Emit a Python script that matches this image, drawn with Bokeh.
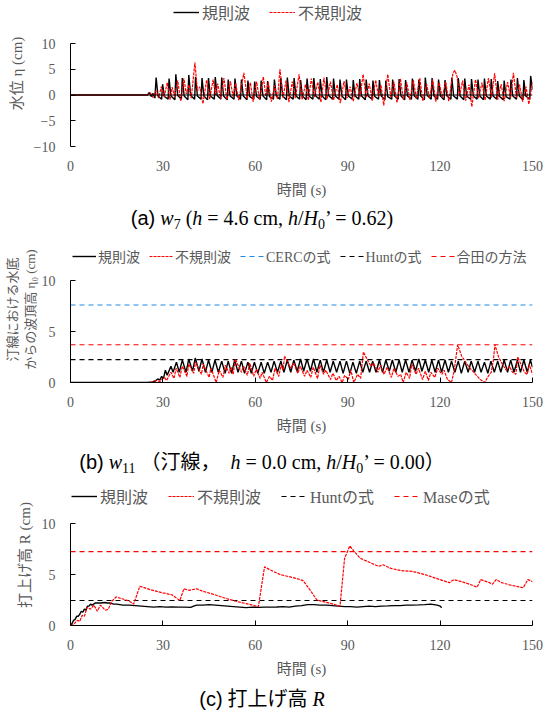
from bokeh.plotting import figure
from bokeh.models import Legend, LegendItem, Span, Div, FixedTicker
from bokeh.layouts import column
from bokeh.embed import file_html
from bokeh.resources import INLINE

# ---------------- data ----------------
t_span = [0, 150]
x_ticks = [0, 30, 60, 90, 120, 150]

# (a) water level at w7
reg_a_t = [0, 25, 25.6, 26.2, 26.8, 27.4,
           27.8, 28.4, 29.6, 29.9, 30.5, 31.7, 32.0, 32.6, 33.9, 34.2, 34.8, 36.0,
           36.3, 36.9, 38.1, 38.4, 39.0, 40.3, 40.6, 41.2, 42.4, 42.7, 43.3, 44.5,
           44.8, 45.4, 46.7, 47.0, 47.6, 48.8, 49.1, 49.7, 50.9, 51.2, 51.8, 53.1,
           53.4, 54.0, 55.2, 55.5, 56.1, 57.3, 57.6, 58.2, 59.5, 59.8, 60.4, 61.6,
           61.9, 62.5, 63.7, 64.0, 64.6, 65.9, 66.2, 66.8, 68.0, 68.3, 68.9, 70.1,
           70.4, 71.0, 72.3, 72.6, 73.2, 74.4, 74.7, 75.3, 76.5, 76.8, 77.4, 78.7,
           79.0, 79.6, 80.8, 81.1, 81.7, 82.9, 83.2, 83.8, 85.1, 85.4, 86.0, 87.2,
           87.5, 88.1, 89.3, 89.6, 90.2, 91.5, 91.8, 92.4, 93.6, 93.9, 94.5, 95.7,
           96.0, 96.6, 97.9, 98.2, 98.8, 100.0, 100.3, 100.9, 102.1, 102.4, 103.0, 104.3,
           104.6, 105.2, 106.4, 106.7, 107.3, 108.5, 108.8, 109.4, 110.7, 111.0, 111.6, 112.8,
           113.1, 113.7, 114.9, 115.2, 115.8, 117.1, 117.4, 118.0, 119.2, 119.5, 120.1, 121.3,
           121.6, 122.2, 123.5, 123.8, 124.4, 125.6, 125.9, 126.5, 127.7, 128.0, 128.6, 129.9,
           130.2, 130.8, 132.0, 132.3, 132.9, 134.1, 134.4, 135.0, 136.3, 136.6, 137.2, 138.4,
           138.7, 139.3, 140.5, 140.8, 141.4, 142.7, 143.0, 143.6, 144.8, 145.1, 145.7, 146.9,
           147.2, 147.8, 149.1, 149.4, 150.0]
reg_a_eta = [0, 0, 0.5, -0.3, 0.3, -0.6,
             3.4, -0.2, -0.8, 2.1, -0.3, -0.8, 3.2, -0.2, -0.9, 4.0, -0.1, -0.8,
             3.3, -0.2, -0.9, 3.9, -0.1, -0.8, 3.5, -0.2, -0.8, 3.3, -0.2, -0.9,
             3.3, -0.2, -0.8, 3.5, -0.1, -0.8, 3.4, -0.2, -0.9, 3.0, -0.2, -0.8,
             3.2, -0.2, -0.8, 3.0, -0.2, -0.9, 2.8, -0.3, -0.8, 2.6, -0.3, -0.8,
             2.8, -0.2, -0.9, 2.7, -0.3, -0.8, 3.0, -0.2, -0.8, 3.3, -0.2, -0.9,
             3.4, -0.2, -0.8, 3.3, -0.2, -0.8, 2.9, -0.2, -0.9, 3.2, -0.2, -0.8,
             3.3, -0.2, -0.8, 3.1, -0.2, -0.9, 3.5, -0.1, -0.8, 3.2, -0.2, -0.8,
             3.0, -0.2, -0.9, 3.0, -0.2, -0.8, 2.9, -0.2, -0.8, 3.1, -0.2, -0.9,
             3.0, -0.2, -0.8, 2.8, -0.3, -0.8, 2.9, -0.2, -0.9, 2.8, -0.3, -0.8,
             3.0, -0.2, -0.8, 3.1, -0.2, -0.9, 2.9, -0.2, -0.8, 3.2, -0.2, -0.8,
             3.0, -0.2, -0.9, 3.4, -0.1, -0.8, 3.3, -0.2, -0.8, 3.0, -0.2, -0.9,
             2.9, -0.2, -0.8, 3.4, -0.2, -0.8, 3.3, -0.2, -0.9, 3.2, -0.2, -0.8,
             3.1, -0.2, -0.8, 3.0, -0.2, -0.9, 3.2, -0.2, -0.8, 3.1, -0.2, -0.8,
             2.7, -0.3, -0.9, 2.8, -0.3, -0.8, 3.0, -0.2, -0.8, 3.3, -0.2, -0.9,
             2.9, -0.2, -0.8, 3.7, 1.0]
irr_a_t = [0, 25, 26, 26.8, 27.8, 28.6, 29.5, 30.4, 31.4, 32.3, 33.0, 33.8, 34.8, 35.8,
           36.8, 37.6, 38.4, 39.2, 40.4, 41.2, 42.0, 43.0, 44.2, 45.2, 46.3, 47.1, 47.8,
           48.7, 49.8, 50.8, 51.9, 52.8, 53.6, 54.6, 56.3, 57.4, 58.4, 59.3, 60.4, 61.4,
           62.6, 63.4, 64.2, 65.2, 66.3, 67.2, 68.0, 69.0, 70.0, 70.9, 72.0, 73.0, 74.2,
           75.2, 76.3, 77.2, 78.2, 79.2, 80.3, 81.3, 82.3, 83.3, 84.4, 85.4, 86.6, 87.6,
           88.8, 89.8, 90.8, 91.8, 93.0, 94.0, 95.0, 96.0, 97.0, 98.0, 99.1, 100.0, 100.8,
           101.7, 103.0, 104.0, 105.0, 106.0, 107.1, 108.1, 109.2, 110.2, 111.3, 112.3,
           113.4, 114.4, 115.6, 116.6, 117.6, 118.6, 119.7, 120.7, 121.8, 122.8, 124.2,
           124.8, 125.5, 126.3, 127.3, 128.3, 129.4, 130.3, 131.5, 132.5, 133.6, 134.6,
           135.7, 136.7, 137.7, 138.7, 139.8, 140.8, 141.9, 142.9, 143.8, 144.8, 145.8,
           146.8, 147.9, 148.8, 150]
irr_a_eta = [0, 0, 0.4, -0.5, 0.9, -0.6, 1.6, -0.4, 2.4, -0.9, 1.5, -0.3, 2.8, -1.2,
             3.2, 0.2, 2.0, -0.6, 6.3, 0.8, 1.6, -1.7, 2.9, -0.8, 3.0, 0.0, 2.2,
             -0.7, 3.3, -0.9, 2.7, -0.3, 2.3, -1.0, 4.3, -0.7, 2.4, -1.3, 2.6, -0.9,
             3.5, -0.2, 2.5, -1.3, 1.8, -0.8, 5.0, -0.5, 2.8, -1.4, 2.6, -0.6, 4.0,
             -0.9, 2.1, -1.0, 3.2, -0.4, 2.5, -1.4, 3.4, -0.8, 2.6, -1.0, 2.0, -1.6,
             2.7, -0.6, 1.6, -1.2, 2.3, -0.4, 4.0, -0.5, 2.2, -1.1, 2.9, -0.3, 1.9,
             -2.0, 4.0, -0.4, 2.6, -1.5, 3.2, -0.9, 2.4, -1.0, 2.9, -0.7,
             3.3, -1.2, 2.1, -0.6, 3.0, -1.3, 2.4, -0.5, 2.6, -1.2, 4.3,
             4.8, 3.6, -0.2, 2.8, -1.1, 2.0, -2.3, 3.0, -0.6, 2.4, -1.0,
             3.3, -0.5, 4.2, -0.9, 2.1, -1.2, 2.5, -0.5, 4.3, -0.6, 2.0,
             -1.3, 1.6, -1.8, 2.5]

# (b) crest height above bottom at shoreline w11
reg_b_t = [0, 25, 26.5, 27.5, 28.3, 29.0, 29.6, 30.2, 30.8, 31.4, 32.6, 33.3, 34.4, 35.3,
           36.3, 37.5, 38.4, 39.6, 40.5, 41.7, 42.7, 43.8, 44.8, 45.9, 46.9, 48.0, 49.1,
           50.2, 51.2, 52.3, 53.3, 54.4, 55.5, 56.5, 57.6, 58.7, 59.7, 60.8, 61.9, 62.9,
           64.0, 65.1, 66.1, 67.2, 68.3, 69.3, 70.4, 71.5, 72.5, 73.6, 74.7, 75.7, 76.8,
           77.9, 78.9, 80.0, 81.1, 82.1, 83.2, 84.3, 85.3, 86.4, 87.5, 88.5, 89.6, 90.7,
           91.7, 92.8, 93.9, 94.9, 96.0, 97.1, 98.1, 99.2, 100.3, 101.3, 102.4, 103.5,
           104.5, 105.6, 106.7, 107.7, 108.8, 109.9, 110.9, 112.0, 113.1, 114.1, 115.2,
           116.3, 117.3, 118.4, 119.5, 120.5, 121.6, 122.7, 123.7, 124.8, 125.9, 126.9,
           128.0, 129.1, 130.1, 131.2, 132.3, 133.3, 134.4, 135.5, 136.5, 137.6, 138.7,
           139.7, 140.8, 141.9, 142.9, 144.0, 145.1, 146.1, 147.2, 148.3, 149.3, 150]
reg_b_eta = [0, 0, 0.05, 0.15, 0.35, 0.25, 0.6, 0.4, 1.2, 0.7, 1.6, 1.0, 2.0, 1.0,
             2.2, 1.0, 2.3, 1.1, 2.4, 1.1, 2.3, 1.0, 2.2, 1.0, 2.2, 1.0, 2.1,
             0.9, 2.1, 0.9, 2.2, 1.0, 2.1, 0.9, 2.0, 0.9, 2.0, 0.9, 2.0, 0.9,
             2.0, 1.0, 2.1, 1.0, 2.1, 1.0, 2.2, 1.0, 2.2, 1.1, 2.3, 1.1, 2.3,
             1.1, 2.3, 1.0, 2.2, 1.0, 2.2, 1.0, 2.1, 1.0, 2.1, 0.9, 2.1, 0.9,
             2.0, 0.9, 2.1, 1.0, 2.1, 1.0, 2.1, 1.0, 2.2, 1.0, 2.2, 1.1,
             2.2, 1.0, 2.2, 1.0, 2.2, 1.0, 2.2, 1.1, 2.3, 1.1, 2.2,
             1.0, 2.2, 1.0, 2.2, 1.0, 2.2, 1.0, 2.1, 1.0, 2.1, 0.9,
             2.1, 1.0, 2.1, 1.0, 2.1, 1.0, 2.0, 0.9, 2.1, 1.0, 2.1,
             1.0, 2.2, 1.0, 2.2, 1.0, 2.2, 1.0, 2.2, 1.0, 2.2, 1.5]
irr_b_t = [0, 26, 28, 29, 30.5, 31.2, 32.6, 33.6, 34.3, 35.5, 36.3, 37.8, 38.4, 40, 40.6,
           42.5, 43.1, 45, 45.6, 47.3, 48.3, 49.5, 50.3, 51.5, 52.1, 52.8, 53.5, 55.5,
           56.2, 57.4, 58.2, 59.5, 60.3, 61.6, 62.2, 63.6, 64.6, 65.6, 66.4, 67.6, 68.4,
           69.0, 69.5, 71.5, 72.5, 73.8, 74.6, 76, 76.8, 78, 78.8, 80.2, 81, 82.2, 82.9,
           84.4, 85.2, 86.3, 87.2, 88.2, 89, 90.2, 91, 92, 93.2, 94.2, 95.1, 96.4, 97.6,
           98.4, 99.8, 100.6, 101.8, 102.8, 104.2, 105, 106.3, 107.2, 108, 109, 110.1,
           110.8, 112.2, 113, 114.3, 115.2, 116.2, 117, 118.3, 119.2, 120.6, 121.3, 122.4,
           123.7, 124.6, 125.7, 127, 128.5, 130, 131.5, 133, 134.5, 135.6, 136.6, 137.3,
           137.8, 139, 140.2, 141.5, 142.5, 143.5, 144.6, 145.2, 146.5, 147.4, 148.3,
           148.9, 149.6, 150]
irr_b_eta = [0, 0, 0.2, 0.1, 0.5, 0.2, 1.0, 0.4, 1.4, 0.5, 1.6, 0.6, 1.8, 0.9, 2.0,
             0.8, 1.8, 0.5, 1.4, 0.0, 1.2, 0.5, 1.7, 0.9, 1.5, 0.8, 2.3, 1.0,
             1.6, 0.7, 1.9, 0.6, 1.3, 0.4, 1.0, 0.0, 0.6, 0.2, 1.4, 0.6, 1.7,
             1.2, 2.6, 1.4, 1.9, 0.9, 1.6, 0.6, 1.2, 0.5, 1.5, 0.4, 1.7, 0.8, 1.2,
             0.3, 0.9, 0.2, 0.6, 0.0, 0.7, 0.3, 1.2, 0.0, 0.8, 0.4, 3.0, 2.2, 1.6,
             1.9, 1.0, 1.7, 0.8, 1.5, 0.5, 1.4, 0.6, 0.8, 0.0, 1.0, 0.4,
             1.8, 0.8, 1.4, 0.3, 1.1, 0.2, 1.0, 0.5, 1.4, 0.8, 1.2, 0.3,
             0.0, 1.2, 3.7, 2.6, 1.9, 1.3, 0.8, 0.3, 0.0, 0.6, 1.0, 2.2,
             3.7, 2.5, 1.8, 1.2, 1.6, 1.0, 0.8, 2.5, 1.6, 1.0, 0.8,
             1.8, 1.2, 0.8]
cerc_b = 7.6
hunt_b = 2.25
goda_b = 3.7

# (c) run-up height R
reg_c_t = [0, 0.5, 1, 1.5, 2, 2.5, 3, 3.5, 4, 4.5, 5, 5.5, 6, 6.5, 7, 8, 9, 10, 11, 12, 13,
           14, 15, 17, 19, 21, 23, 25, 27, 29, 31, 33, 35, 37, 39, 40, 41, 43, 45, 47, 49,
           51, 53, 55, 57, 59, 61, 63, 65, 67, 69, 71, 73, 75, 77, 79, 81, 83, 85, 87, 89,
           91, 93, 95, 97, 99, 101, 103, 105, 107, 109, 111, 113, 115, 117, 119, 120, 120.5]
reg_c_R = [0, 0.2, 0.5, 0.6, 0.9, 0.9, 1.1, 1.4, 1.3, 1.6, 1.5, 1.9, 1.9, 2.1, 2.0, 2.2, 2.2,
           2.2, 2.25, 2.2, 2.2, 2.1, 2.1, 2.0, 2.0, 1.95, 1.9, 1.85, 1.8, 1.85, 1.8, 1.82,
           1.8, 1.8, 1.78, 1.9, 2.0, 2.0, 2.05, 2.0, 1.95, 1.9, 1.85, 1.8, 1.75, 1.8, 1.78,
           1.8, 1.8, 1.82, 1.85, 1.8, 1.9, 1.95, 2.05, 2.05, 2.0, 2.0, 1.95, 1.9, 1.85,
           1.85, 1.8, 1.85, 1.9, 1.85, 1.9, 1.92, 1.95, 1.95, 2.0, 2.0, 2.02, 2.05, 2.1,
           2.0, 1.9, 1.75]
irr_c_t = [0, 1, 2.2, 3, 3.8, 4.5, 5.4, 6.5, 7.6, 8.7, 9.7, 11.3, 12.3, 13.2, 14.8, 17,
           19, 20.5, 22.5, 26, 30, 33, 35.5, 36.8, 38.5, 41, 43, 46, 50, 54, 57, 61, 63,
           64.5, 68, 73.5, 75.5, 77.5, 80, 84, 87.5, 89, 90.7, 92, 94, 97, 100, 101.5,
           104, 107, 111, 115, 118, 121, 123, 124.5, 127, 130, 132, 133.2, 136, 137,
           138.2, 140, 143, 147, 148.5, 150]
irr_c_R = [0, 0.1, 0.5, 0.4, 1.0, 0.9, 1.8, 1.6, 2.0, 1.4, 2.0, 1.5, 1.6, 2.3, 2.8, 2.6,
           2.4, 2.1, 3.85, 3.5, 3.2, 3.0, 2.45, 3.6, 3.45, 3.6, 3.35, 3.1, 2.7, 2.35, 2.15,
           1.85, 5.75, 5.5, 5.0, 4.6, 4.4, 3.6, 2.5, 2.2, 1.9, 6.6, 7.8, 7.3, 6.6, 6.2,
           5.8, 5.95, 5.6, 5.4, 5.3, 5.0, 4.7, 4.4, 4.2, 4.5, 4.3, 4.0, 3.75, 4.5, 4.2,
           4.05, 4.5, 4.2, 3.95, 3.7, 4.5, 4.3]
hunt_c = 2.45
mase_c = 7.25

# ---------------- styling ----------------
FONT = "'Liberation Serif', 'Noto Sans CJK JP'"
GRAY = "#595959"
RED = "#FF0000"
BLUE = "#1E88E5"


def make_fig(data_top, data_h, bottom, y_lo, y_hi, y_ticks, ylabel, ylabel_size,
             ylabel_standoff, x_line=True):
    # the frame reaches the top of the figure so that the legend drawn above the
    # data area is not clipped; the y axis line itself is bounded to the data range
    frame_h = data_top + data_h
    y_end = y_hi + (y_hi - y_lo) * data_top / data_h
    p = figure(width=544, height=frame_h + bottom, min_border_left=70, min_border_right=12,
               min_border_top=0, min_border_bottom=bottom,
               x_range=(t_span[0], t_span[1]), y_range=(y_lo, y_end),
               output_backend="svg", toolbar_location=None)
    p.outline_line_color = None
    p.xgrid.visible = False
    p.ygrid.visible = False
    xa = p.xaxis[0]
    xa.ticker = FixedTicker(ticks=x_ticks)
    xa.minor_tick_line_color = None
    xa.major_tick_in = 5 if x_line else 0
    xa.major_tick_out = 0
    xa.axis_line_color = "black" if x_line else None
    xa.major_tick_line_color = "black" if x_line else None
    xa.major_label_text_font = FONT
    xa.major_label_text_font_size = "14px"
    xa.major_label_text_color = GRAY
    xa.major_label_standoff = 14
    xa.axis_label = "時間 (s)"
    xa.axis_label_text_font = FONT
    xa.axis_label_text_font_size = "15px"
    xa.axis_label_text_font_style = "normal"
    xa.axis_label_text_color = GRAY
    xa.axis_label_standoff = 8
    ya = p.yaxis[0]
    ya.ticker = FixedTicker(ticks=y_ticks)
    ya.bounds = (y_lo, y_hi)
    ya.minor_tick_line_color = None
    ya.major_tick_in = 5
    ya.major_tick_out = 0
    ya.axis_line_color = "black"
    ya.major_tick_line_color = "black"
    ya.major_label_text_font = FONT
    ya.major_label_text_font_size = "14px"
    ya.major_label_text_color = GRAY
    ya.major_label_standoff = 15
    ya.axis_label = ylabel
    ya.axis_label_text_font = FONT
    ya.axis_label_text_font_size = ylabel_size
    ya.axis_label_text_font_style = "normal"
    ya.axis_label_text_color = GRAY
    ya.axis_label_standoff = ylabel_standoff
    return p


def add_legend(p, items, x, y, spacing, size="16px", glyph_w=26, standoff=3):
    lg = Legend(items=items, location=(x, y), orientation="horizontal",
                spacing=spacing, padding=0, margin=0, glyph_width=glyph_w,
                glyph_height=16, label_height=16, label_standoff=standoff,
                label_text_font=FONT, label_text_font_size=size,
                label_text_color=GRAY, border_line_color=None,
                background_fill_alpha=0)
    p.add_layout(lg)


CAP = ("width:524px;text-align:center;font-family:'Liberation Serif','Noto Sans CJK JP';"
       "font-size:20px;color:#000;line-height:{h}px;white-space:nowrap;")
SANS = "font-family:'Liberation Sans','Noto Sans CJK JP';"
SUB = "font-size:70%;vertical-align:-0.25em;line-height:0;"


def caption(html, h):
    return Div(text=f'<div style="{CAP.format(h=h)}">{html}</div>',
               width=544, height=h, margin=(0, 0, 0, 0))


# (a)
pa = make_fig(43, 103, 54, -10, 10, [-10, -5, 0, 5, 10], "水位 η (cm)", "15px", 6,
              x_line=False)
pa.add_layout(Span(location=0, dimension="width", line_color="black", line_width=1))
ra1 = pa.line(reg_a_t, reg_a_eta, line_color="black", line_width=1.4)
ra2 = pa.line(irr_a_t, irr_a_eta, line_color=RED, line_width=1.2, line_dash="3 1")
add_legend(pa, [LegendItem(label="規則波", renderers=[ra1]),
                LegendItem(label="不規則波", renderers=[ra2])], 103, 122, 19)
cap_a = caption(f'<span style="{SANS}">(a)</span> <i>w</i><span style="{SUB}">7</span> '
                f'(<i>h</i> = 4.6 cm, <i>h</i>/<i>H</i><span style="{SUB}">0</span>’ = 0.62)', 36)

# (b)
pb = make_fig(44, 102, 58, 0, 10, [0, 5, 10], "汀線における水底\nからの波頂高 η₀ (cm)",
              "13px", 1)
rb3 = pb.line(t_span, [cerc_b, cerc_b], line_color=BLUE, line_width=1.2, line_dash="5 4")
rb4 = pb.line(t_span, [hunt_b, hunt_b], line_color="black", line_width=1.2, line_dash="5 4")
rb5 = pb.line(t_span, [goda_b, goda_b], line_color=RED, line_width=1.2, line_dash="5 4")
rb1 = pb.line(reg_b_t, reg_b_eta, line_color="black", line_width=1.4)
rb2 = pb.line(irr_b_t, irr_b_eta, line_color=RED, line_width=1.2, line_dash="3 1")
add_legend(pb, [LegendItem(label="規則波", renderers=[rb1]),
                LegendItem(label="不規則波", renderers=[rb2]),
                LegendItem(label="CERCの式", renderers=[rb3]),
                LegendItem(label="Huntの式", renderers=[rb4]),
                LegendItem(label="合田の方法", renderers=[rb5])], 2, 116, 9,
           size="14px", glyph_w=24, standoff=2)
cap_b = caption(f'<span style="{SANS}">(b)</span> <i>w</i><span style="{SUB}">11</span> '
                f'（汀線，&nbsp; <i>h</i> = 0.0 cm, <i>h</i>/<i>H</i>'
                f'<span style="{SUB}">0</span>’ = 0.00）', 44)

# (c)
pc = make_fig(39, 102, 57, 0, 10, [0, 5, 10], "打上げ高 R (cm)", "15px", 6)
rc3 = pc.line(t_span, [hunt_c, hunt_c], line_color="black", line_width=1.2, line_dash="5 4")
rc4 = pc.line(t_span, [mase_c, mase_c], line_color=RED, line_width=1.2, line_dash="5 4")
rc1 = pc.line(reg_c_t, reg_c_R, line_color="black", line_width=1.4)
rc2 = pc.line(irr_c_t, irr_c_R, line_color=RED, line_width=1.2, line_dash="3 1")
add_legend(pc, [LegendItem(label="規則波", renderers=[rc1]),
                LegendItem(label="不規則波", renderers=[rc2]),
                LegendItem(label="Huntの式", renderers=[rc3]),
                LegendItem(label="Maseの式", renderers=[rc4])], 1, 117, 20)
cap_c = caption(f'<span style="{SANS}">(c)</span> 打上げ高 <i>R</i>', 34)

layout = column(pa, cap_a, pb, cap_b, pc, cap_c, spacing=0)
open("out.html", "w").write(file_html(layout, INLINE))
